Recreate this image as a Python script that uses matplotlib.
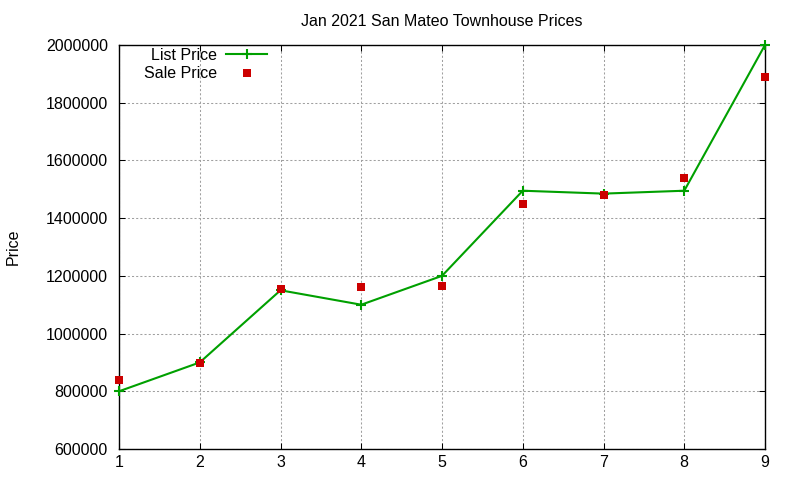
import matplotlib
matplotlib.use("Agg")
import matplotlib.pyplot as plt

x_values = [1, 2, 3, 4, 5, 6, 7, 8, 9]
list_price = [800000, 900000, 1150000, 1100000, 1200000, 1495000, 1485000, 1495000, 2000000]
sale_price = [839000, 898000, 1155000, 1163000, 1165000, 1450000, 1481000, 1540000, 1889000]
y_ticks = [600000, 800000, 1000000, 1200000, 1400000, 1600000, 1800000, 2000000]
title = "Jan 2021 San Mateo Townhouse Prices"

FS = 11.5
plt.rcParams['font.family'] = ['Liberation Sans', 'DejaVu Sans']
plt.rcParams['font.size'] = FS

fig = plt.figure(figsize=(8, 4.8), dpi=100)
ax = fig.add_axes([119/800, 1 - 449/480, (765-119)/800, (449-45)/480])

green = '#00a000'
red = '#cc0000'

ax.plot(x_values, list_price, color=green, linewidth=1.5, marker='+',
        markersize=7, markeredgewidth=1.5, label='List Price', zorder=3,
        clip_on=False)
ax.plot(x_values, sale_price, linestyle='none', color=red, marker='s',
        markersize=6, markeredgewidth=0, label='Sale Price', zorder=4,
        clip_on=False)

ax.set_xlim(1, 9)
ax.set_ylim(600000, 2000000)
ax.set_xticks(x_values)
ax.set_yticks(y_ticks)
ax.set_yticklabels([str(v) for v in y_ticks])

ax.grid(True, color='#a0a0a0', linestyle=(0, (2, 2)), linewidth=0.75)
ax.set_axisbelow(True)
for s in ax.spines.values():
    s.set_linewidth(1)
    s.set_color('black')
ax.tick_params(direction='in', length=4.5, width=0.75, top=True, right=True,
               labelsize=FS, colors='black')
ax.tick_params(axis='y', pad=8)
ax.tick_params(axis='x', pad=4)

ax.set_title(title, fontsize=FS, pad=14)
ax.set_ylabel("Price", fontsize=FS)
ax.yaxis.set_label_coords(-0.152, 0.5)

leg = ax.legend(loc='upper right', bbox_to_anchor=(267/800, 1 - 48/480),
                bbox_transform=fig.transFigure, frameon=False, markerfirst=False,
                borderpad=0, borderaxespad=0, handlelength=2.55, handletextpad=0.55,
                labelspacing=0.2, fontsize=FS)

fig.savefig("out.png", dpi=100)
